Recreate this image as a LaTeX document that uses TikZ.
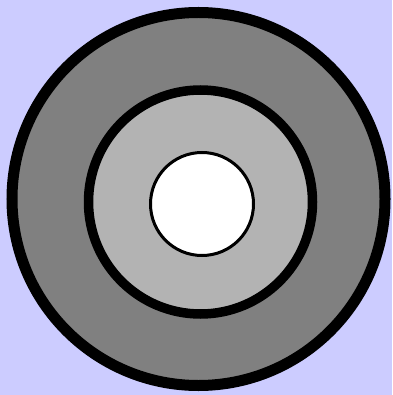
\documentclass[tikz,border=0pt]{standalone}
\usepackage{xcolor}
\usepackage{tikz}
\definecolor{mylavender}{RGB}{204,204,255}
\definecolor{mydarkgray}{RGB}{128,128,128}
\definecolor{mylightgray}{RGB}{179,179,179}
\tikzset{
  outerring/.style={draw=black, fill=mydarkgray, line width=11pt},
  middlering/.style={draw=black, fill=mylightgray, line width=9.5pt},
  innerring/.style={draw=black, fill=white, line width=3pt}
}
\begin{document}
\begin{tikzpicture}[x=1pt, y=-1pt]
  % background
  \fill[mylavender] (0,0) rectangle (392,395);
  \useasboundingbox (0,0) rectangle (392,395);

  % rings, outside in
  \draw[outerring] (198.5,199) circle (186.5pt);
  \draw[middlering] (200.5,202) circle (112pt);
  \draw[innerring] (202,204) circle (51.5pt);
\end{tikzpicture}
\end{document}
